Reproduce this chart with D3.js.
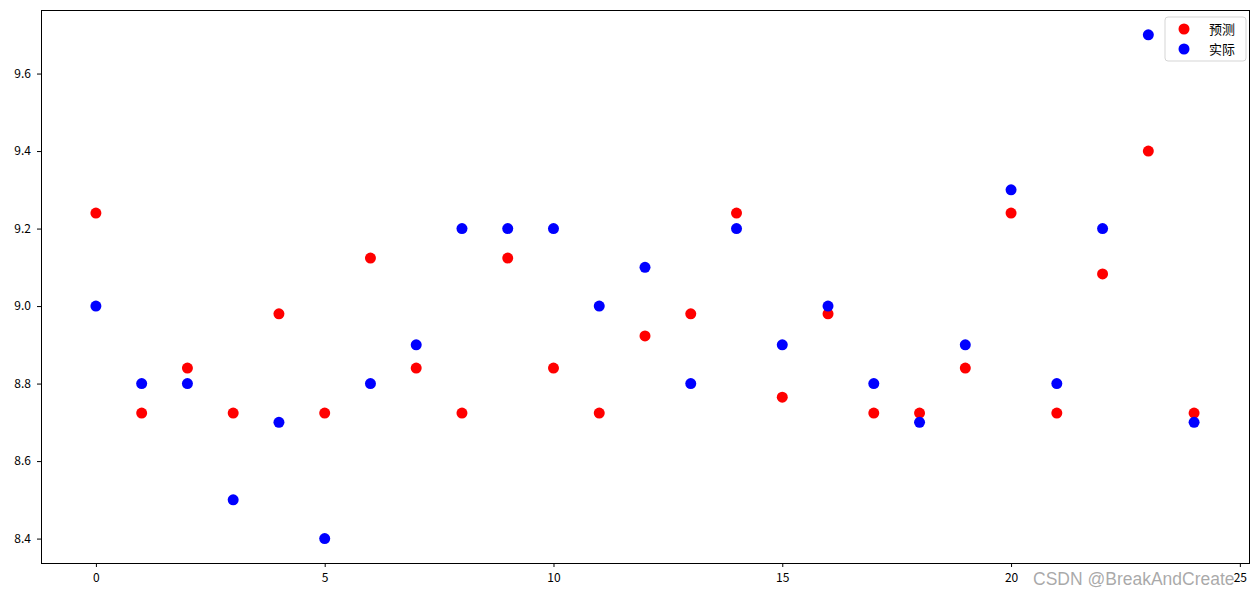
<!DOCTYPE html>
<html>
<head>
<meta charset="utf-8">
<script src="https://cdn.jsdelivr.net/npm/d3@7"></script>
<style>
  body { margin: 0; background: #fff; }
  svg text { font-family: "Noto Sans CJK SC", "DejaVu Sans", sans-serif; }
</style>
</head>
<body>
<div id="chart-container"></div>
<script>
const xIndex = d3.range(25);
const predicted = [9.24, 8.724, 8.84, 8.724, 8.98, 8.724, 9.124, 8.84, 8.724, 9.124,
  8.84, 8.724, 8.923, 8.98, 9.24, 8.765, 8.98, 8.724, 8.724, 8.84,
  9.24, 8.724, 9.083, 9.4, 8.724];
const actual = [9.0, 8.8, 8.8, 8.5, 8.7, 8.4, 8.8, 8.9, 9.2, 9.2,
  9.2, 9.0, 9.1, 8.8, 9.2, 8.9, 9.0, 8.8, 8.7, 8.9,
  9.3, 8.8, 9.2, 9.7, 8.7];
const xTicks = [0, 5, 10, 15, 20, 25];
const yTicks = [8.4, 8.6, 8.8, 9.0, 9.2, 9.4, 9.6];
const seriesNames = ["预测", "实际"];
const seriesColors = ["red", "blue"];

const width = 1259, height = 596;
const margin = { top: 10, right: 10, bottom: 33, left: 41 };

const svg = d3.select("#chart-container")
  .append("svg")
  .attr("width", width)
  .attr("height", height);

const x = d3.scaleLinear([-1.2, 25.2], [margin.left, width - margin.right]);
const y = d3.scaleLinear([8.337, 9.764], [height - margin.bottom, margin.top]);

svg.append("g")
  .attr("transform", `translate(0,${height - margin.bottom})`)
  .call(d3.axisBottom(x).tickValues(xTicks).tickFormat(d3.format("d")).tickSize(4).tickPadding(6))
  .call(g => g.select(".domain").remove())
  .call(g => g.selectAll("text").attr("font-size", 12).attr("fill", "#000"));

svg.append("g")
  .attr("transform", `translate(${margin.left},0)`)
  .call(d3.axisLeft(y).tickValues(yTicks).tickFormat(d3.format(".1f")).tickSize(4).tickPadding(6))
  .call(g => g.select(".domain").remove())
  .call(g => g.selectAll("text").attr("font-size", 12).attr("fill", "#000"));

svg.append("rect")
  .attr("x", margin.left + 0.5)
  .attr("y", margin.top + 0.5)
  .attr("width", width - margin.left - margin.right)
  .attr("height", height - margin.top - margin.bottom)
  .attr("fill", "none")
  .attr("stroke", "black")
  .attr("stroke-width", 1);

[predicted, actual].forEach((vals, k) => {
  svg.append("g")
    .selectAll("circle")
    .data(vals)
    .join("circle")
    .attr("cx", (d, i) => x(xIndex[i]))
    .attr("cy", d => y(d))
    .attr("r", 5.5)
    .attr("fill", seriesColors[k]);
});

// legend
const legend = svg.append("g")
  .attr("transform", `translate(${width - margin.right - 84},17)`);

legend.append("rect")
  .attr("width", 81)
  .attr("height", 44)
  .attr("rx", 3)
  .attr("fill", "white")
  .attr("fill-opacity", 0.8)
  .attr("stroke", "#d5d5d5");

seriesNames.forEach((name, k) => {
  legend.append("circle")
    .attr("cx", 19)
    .attr("cy", 12 + k * 20)
    .attr("r", 5.5)
    .attr("fill", seriesColors[k]);
  legend.append("text")
    .attr("x", 44)
    .attr("y", 12 + k * 20)
    .attr("dy", "0.35em")
    .attr("font-size", 13)
    .text(name);
});

// watermark
svg.append("text")
  .attr("x", 1033)
  .attr("y", 585)
  .style("font-family", "'Liberation Sans', Arial, sans-serif")
  .style("font-size", "17.5px")
  .attr("fill", "#9a9a9a")
  .attr("fill-opacity", 0.85)
  .text("CSDN @BreakAndCreate");
</script>
</body>
</html>
